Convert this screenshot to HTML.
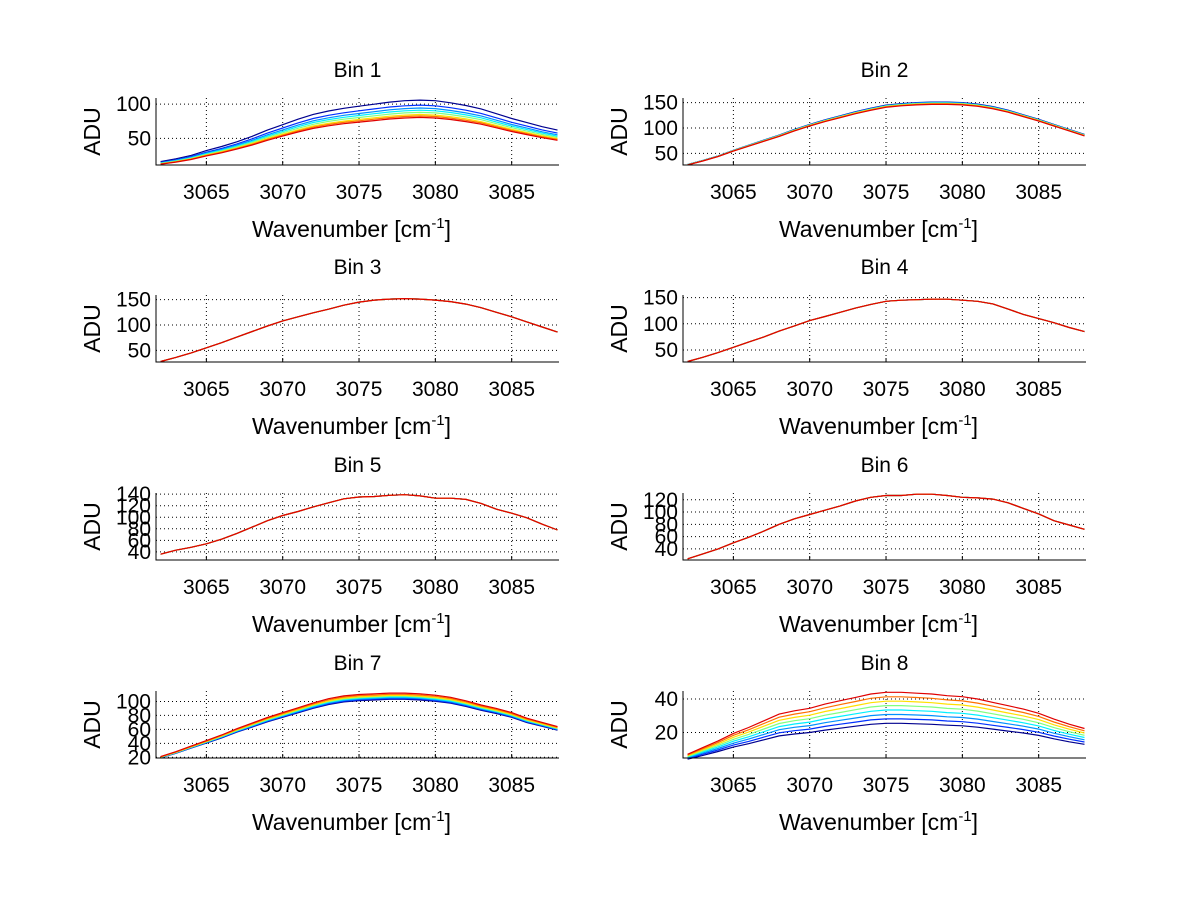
<!DOCTYPE html>
<html><head><meta charset="utf-8"><style>
html,body{margin:0;padding:0;background:#fff;}
svg{display:block;font-family:"Liberation Sans",Arial,sans-serif;}
</style></head><body>
<svg id="fig" width="1200" height="901" viewBox="0 0 1200 901" xmlns="http://www.w3.org/2000/svg"></svg>
<script>
const wavenumbers=[3062,3063,3064,3065,3066,3067,3068,3069,3070,3071,3072,3073,3074,3075,3076,3077,3078,3079,3080,3081,3082,3083,3084,3085,3086,3087,3088];
const xTicks=[3065,3070,3075,3080,3085];
const bin1Base=[16,20,25,32,38,45,53,62,70,78,85,90,94,97,100,103,105,106,105,102,98,93,86,79,73,67,62];
const bin2Base=[28,36,45,56,66,76,86,97,107,116,124,132,139,145,148,150,151,151,150,147,142,135,126,117,107,97,87];
const bin3Base=[28,36,45,55,65,76,87,98,108,116,124,131,139,145,149,151,152,151,149,146,141,134,125,116,106,96,86];
const bin4Base=[28,36,45,55,65,75,86,96,106,114,122,130,137,143,145,146,147,147,145,143,138,128,118,110,102,93,85];
const bin5Base=[36,43,48,54,62,72,83,94,103,110,118,125,132,135,136,138,139,137,133,133,131,124,114,107,99,88,78];
const bin6Base=[24,32,40,50,59,69,80,89,96,103,110,118,124,127,127,129,129,127,124,123,121,115,106,97,86,79,72];
const bin7Base=[21,28,36,44,52,61,69,77,84,91,98,104,108,110,111,112,112,111,109,106,101,95,90,84,76,70,64];
const bin8Base=[7,11,15,19.5,23,27,31,33,34.5,37,39,41,43,44,44,43.5,43,42,41.4,40,38,36,34,31.5,28,25,22.4];
// per-trace scale factors, listed dark-blue -> red
const bin1Scales=[1.0,0.93,0.89,0.86,0.83,0.80,0.78,0.76];
const bin2Scales=[1.0,0.995,0.99,0.99,0.985,0.98,0.975,0.97];
const flatScales=[1,1,1,1,1,1,1,1];
const bin7Scales=[0.92,0.93,0.94,0.95,0.96,0.97,0.985,1.0];
const bin8Scales=[0.58,0.64,0.70,0.76,0.82,0.88,0.94,1.0];
const yTicks1=[50,100],yTicks2=[50,100,150],yTicks5=[40,60,80,100,120,140],yTicks6=[40,60,80,100,120],yTicks7=[20,40,60,80,100],yTicks8=[20,40];
const jet=['#00008f','#0030ff','#0090ff','#00f0ff','#80ff80','#ffe000','#ff7000','#e00000'];

const svg=document.getElementById('fig');
const NS='http://www.w3.org/2000/svg';
function mk(tag,attrs,parent){const e=document.createElementNS(NS,tag);for(const k in attrs)e.setAttribute(k,attrs[k]);(parent||svg).appendChild(e);return e;}

const panels=[
 {t:'Bin 1',col:0,row:0,base:bin1Base,sc:bin1Scales,yl:[11,109],yt:yTicks1},
 {t:'Bin 2',col:1,row:0,base:bin2Base,sc:bin2Scales,yl:[27,159],yt:yTicks2},
 {t:'Bin 3',col:0,row:1,base:bin3Base,sc:flatScales,yl:[27,159],yt:yTicks2},
 {t:'Bin 4',col:1,row:1,base:bin4Base,sc:flatScales,yl:[27,155],yt:yTicks2},
 {t:'Bin 5',col:0,row:2,base:bin5Base,sc:flatScales,yl:[26,142],yt:yTicks5},
 {t:'Bin 6',col:1,row:2,base:bin6Base,sc:flatScales,yl:[22,131],yt:yTicks6},
 {t:'Bin 7',col:0,row:3,base:bin7Base,sc:bin7Scales,yl:[19,115],yt:yTicks7},
 {t:'Bin 8',col:1,row:3,base:bin8Base,sc:bin8Scales,yl:[4.8,44.8],yt:yTicks8}
];
const colL=[156,683],colR=[559,1086],rowT=[98,295,493,691],H=67,xlim=[3061.7,3088.1];

panels.forEach((p,i)=>{
 const L=colL[p.col],R=colR[p.col],T=rowT[p.row],B=T+H;
 const g=mk('g',{});
 
 
 const X=v=>L+(v-xlim[0])/(xlim[1]-xlim[0])*(R-L);
 const Y=v=>B-(v-p.yl[0])/(p.yl[1]-p.yl[0])*(B-T);
 xTicks.forEach(v=>{const l=mk('line',{x1:X(v),x2:X(v),y1:T,y2:B,stroke:'#000','stroke-width':1,'stroke-dasharray':'1,3'},g);
  const tk=mk('line',{x1:X(v),x2:X(v),y1:B,y2:B-4,stroke:'#000'},g);
  const tx=mk('text',{x:X(v),y:B+34,'text-anchor':'middle','font-size':21},g);tx.textContent=v;});
 p.yt.forEach(v=>{const l=mk('line',{x1:L,x2:R,y1:Y(v),y2:Y(v),stroke:'#000','stroke-width':1,'stroke-dasharray':'1,3'},g);
  const tx=mk('text',{x:L-5,y:Y(v)+7,'text-anchor':'end','font-size':21},g);tx.textContent=v;});
 p.sc.forEach((s,k)=>{const pts=wavenumbers.map((w,j)=>X(w).toFixed(1)+','+Y(p.base[j]*s).toFixed(1)).join(' ');
  const pl=mk('polyline',{points:pts,fill:'none',stroke:jet[k],'stroke-width':1.2},g);
  
  });
 const ax=mk('path',{d:`M${L},${T}V${B}H${R}`,fill:'none',stroke:'#000','stroke-width':1},g);
 
 const ti=mk('text',{x:(L+R)/2,y:T-21,'text-anchor':'middle','font-size':21},g);ti.textContent=p.t;
 
 const yl=mk('text',{x:0,y:0,'text-anchor':'middle','font-size':23,transform:`translate(${L-56},${(T+B)/2}) rotate(-90)`},g);yl.textContent='ADU';
 
 const xl=mk('text',{x:(L+R)/2-6,y:B+72,'text-anchor':'middle','font-size':23},g);
 
 xl.appendChild(document.createTextNode('Wavenumber [cm'));
 const sup=mk('tspan',{dy:-9,'font-size':15},xl);sup.textContent='-1';
 const cl=mk('tspan',{dy:9},xl);cl.textContent=']';
});
</script>
</body></html>
